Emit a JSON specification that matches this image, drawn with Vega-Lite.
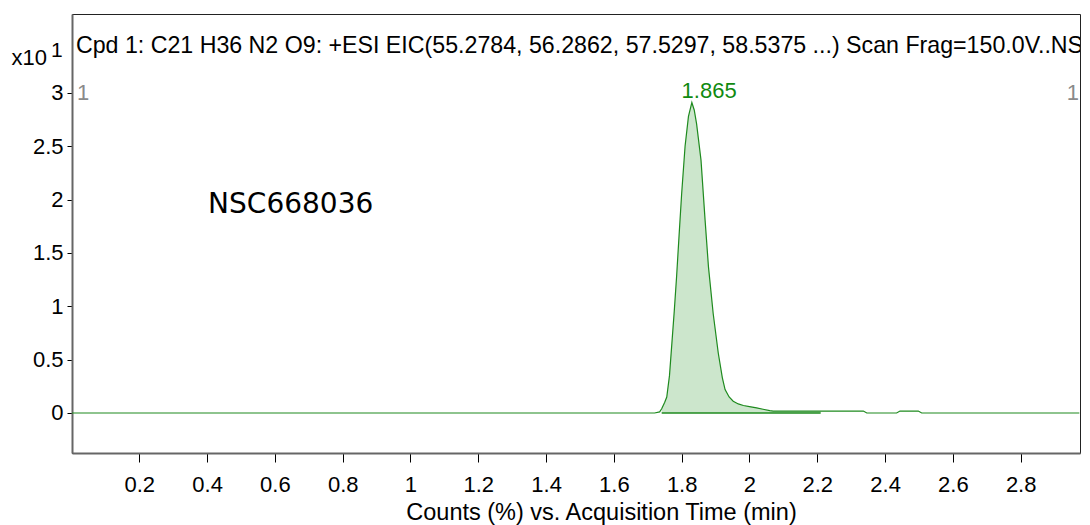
{
  "$schema": "https://vega.github.io/schema/vega-lite/v6.json",
  "width": 1008,
  "height": 439,
  "autosize": {"type": "none"},
  "padding": {"left": 72, "top": 14, "right": 10, "bottom": 72},
  "background": "white",
  "config": {
    "font": "Liberation Sans",
    "view": {"stroke": "#222", "strokeWidth": 1},
    "axis": {"grid": false, "labelFont": "Liberation Sans", "titleFont": "Liberation Sans", "labelColor": "#000", "titleColor": "#000", "tickColor": "#000", "domainColor": "#666", "domainWidth": 2, "labelFontSize": 22, "titleFontSize": 23.5, "titleFontWeight": "normal"}
  },
  "datasets": {
    "trace": [
      {"t": 0.0015, "y": 0}, {"t": 1.72, "y": 0}, {"t": 1.735, "y": 0.01}, {"t": 1.741, "y": 0.04},
      {"t": 1.75, "y": 0.1}, {"t": 1.756, "y": 0.15}, {"t": 1.764, "y": 0.35}, {"t": 1.771, "y": 0.65},
      {"t": 1.778, "y": 0.95}, {"t": 1.785, "y": 1.28}, {"t": 1.793, "y": 1.7}, {"t": 1.8, "y": 2.06},
      {"t": 1.81, "y": 2.5}, {"t": 1.82, "y": 2.78}, {"t": 1.83, "y": 2.91}, {"t": 1.837, "y": 2.84},
      {"t": 1.844, "y": 2.71}, {"t": 1.857, "y": 2.37}, {"t": 1.869, "y": 1.81}, {"t": 1.879, "y": 1.37},
      {"t": 1.893, "y": 0.93}, {"t": 1.908, "y": 0.56}, {"t": 1.92, "y": 0.33}, {"t": 1.928, "y": 0.22},
      {"t": 1.94, "y": 0.15}, {"t": 1.952, "y": 0.11}, {"t": 1.967, "y": 0.085}, {"t": 1.982, "y": 0.07},
      {"t": 2.0, "y": 0.06}, {"t": 2.021, "y": 0.048}, {"t": 2.04, "y": 0.035}, {"t": 2.06, "y": 0.022},
      {"t": 2.07, "y": 0.018}, {"t": 2.336, "y": 0.018}, {"t": 2.346, "y": 0}, {"t": 2.434, "y": 0},
      {"t": 2.444, "y": 0.018}, {"t": 2.498, "y": 0.018}, {"t": 2.508, "y": 0}, {"t": 2.973, "y": 0}
    ],
    "fill": [
      {"t": 1.741, "y": 0.04},
      {"t": 1.75, "y": 0.1}, {"t": 1.756, "y": 0.15}, {"t": 1.764, "y": 0.35}, {"t": 1.771, "y": 0.65},
      {"t": 1.778, "y": 0.95}, {"t": 1.785, "y": 1.28}, {"t": 1.793, "y": 1.7}, {"t": 1.8, "y": 2.06},
      {"t": 1.81, "y": 2.5}, {"t": 1.82, "y": 2.78}, {"t": 1.83, "y": 2.91}, {"t": 1.837, "y": 2.84},
      {"t": 1.844, "y": 2.71}, {"t": 1.857, "y": 2.37}, {"t": 1.869, "y": 1.81}, {"t": 1.879, "y": 1.37},
      {"t": 1.893, "y": 0.93}, {"t": 1.908, "y": 0.56}, {"t": 1.92, "y": 0.33}, {"t": 1.928, "y": 0.22},
      {"t": 1.94, "y": 0.15}, {"t": 1.952, "y": 0.11}, {"t": 1.967, "y": 0.085}, {"t": 1.982, "y": 0.07},
      {"t": 2.0, "y": 0.06}, {"t": 2.021, "y": 0.048}, {"t": 2.04, "y": 0.035}, {"t": 2.06, "y": 0.022},
      {"t": 2.07, "y": 0.018}, {"t": 2.21, "y": 0.018}
    ],
    "integration": [{"t": 1.741, "y": 0}, {"t": 2.21, "y": 0}],
    "title": [{"t": 0.013, "y": 3.44, "label": "Cpd 1: C21 H36 N2 O9: +ESI EIC(55.2784, 56.2862, 57.5297, 58.5375 ...) Scan Frag=150.0V..NS"}],
    "peak": [{"t": 1.881, "y": 3.02, "label": "1.865"}],
    "sample": [{"t": 0.403, "y": 1.95, "label": "NSC668036"}],
    "scanno": [{"t": 0.034, "y": 3.0, "label": "1"}, {"t": 2.954, "y": 3.0, "label": "1"}],
    "exponent": [{"t": -0.043, "y": 3.39, "label": "1"}]
  },
  "encoding": {
    "x": {"field": "t", "type": "quantitative", "scale": {"domain": [0.0015, 2.975], "nice": false, "zero": false}},
    "y": {"field": "y", "type": "quantitative", "scale": {"domain": [-0.375, 3.74], "nice": false, "zero": false}}
  },
  "layer": [
    {
      "data": {"name": "fill"},
      "mark": {"type": "area", "color": "#cce6cc", "opacity": 1},
      "encoding": {"y2": {"datum": 0}}
    },
    {
      "data": {"name": "integration"},
      "mark": {"type": "line", "color": "#1e8a1e", "strokeWidth": 1.5}
    },
    {
      "data": {"name": "trace"},
      "mark": {"type": "line", "color": "#1e8a1e", "strokeWidth": 1.2},
      "encoding": {
        "x": {"field": "t", "type": "quantitative", "axis": {"values": [0.2, 0.4, 0.6, 0.8, 1, 1.2, 1.4, 1.6, 1.8, 2, 2.2, 2.4, 2.6, 2.8], "format": "~g", "tickSize": 9, "labelPadding": 12, "title": "Counts (%) vs. Acquisition Time (min)", "titlePadding": 5, "titleX": 529, "titleAlign": "center"}},
        "y": {"field": "y", "type": "quantitative", "axis": {"values": [0, 0.5, 1, 1.5, 2, 2.5, 3], "format": "~g", "tickSize": 5, "labelPadding": 4, "title": "x10", "titleFontSize": 22, "titleAngle": 0, "titleAlign": "left", "titleBaseline": "middle", "titleX": -61, "titleY": 43}}
      }
    },
    {
      "data": {"name": "title"},
      "mark": {"type": "text", "align": "left", "baseline": "middle", "fontSize": 23.2, "color": "#000", "clip": true},
      "encoding": {"text": {"field": "label"}}
    },
    {
      "data": {"name": "peak"},
      "mark": {"type": "text", "align": "center", "baseline": "middle", "fontSize": 22, "color": "#108a10"},
      "encoding": {"text": {"field": "label"}}
    },
    {
      "data": {"name": "sample"},
      "mark": {"type": "text", "align": "left", "baseline": "middle", "fontSize": 28, "font": "DejaVu Sans", "color": "#000"},
      "encoding": {"text": {"field": "label"}}
    },
    {
      "data": {"name": "scanno"},
      "mark": {"type": "text", "align": "center", "baseline": "middle", "fontSize": 22, "color": "#8a8a8a"},
      "encoding": {"text": {"field": "label"}}
    },
    {
      "data": {"name": "exponent"},
      "mark": {"type": "text", "align": "center", "baseline": "middle", "fontSize": 21, "color": "#000"},
      "encoding": {"text": {"field": "label"}}
    }
  ]
}
